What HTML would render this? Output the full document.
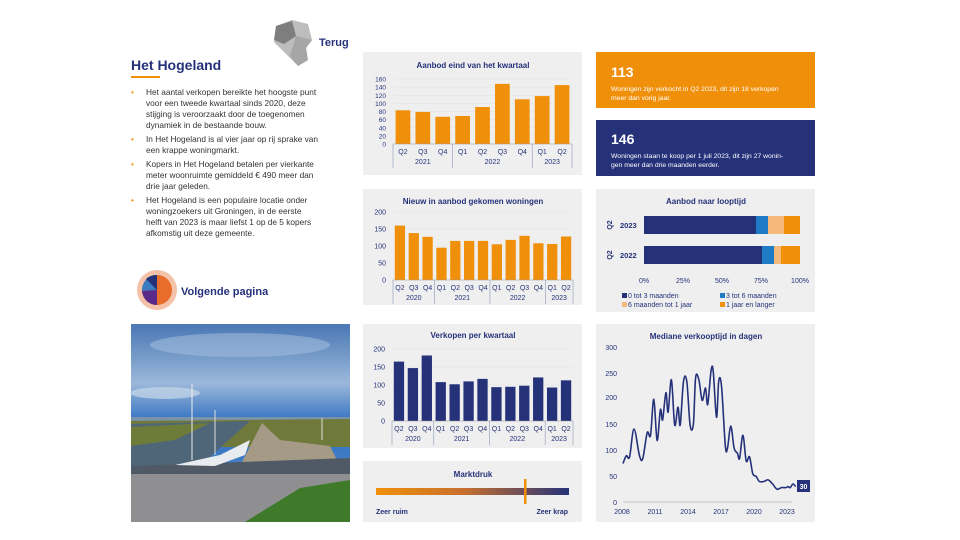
<!DOCTYPE html>
<html><head><meta charset="utf-8"><style>
body{margin:0;background:#fff;}
svg{display:block;font-family:"Liberation Sans",sans-serif;}
</style></head><body>
<svg id="s" width="960" height="540" viewBox="0 0 960 540" xmlns="http://www.w3.org/2000/svg">
<defs>
<linearGradient id="sky" x1="0" y1="0" x2="0" y2="1">
<stop offset="0" stop-color="#4a78b4"/><stop offset="0.3" stop-color="#9bb8da"/><stop offset="0.5" stop-color="#2f6fc0"/><stop offset="1" stop-color="#5f92cc"/></linearGradient>
<linearGradient id="md" x1="0" x2="1"><stop offset="0" stop-color="#f0900a"/><stop offset="0.45" stop-color="#c8702e"/><stop offset="1" stop-color="#25327a"/></linearGradient>
</defs>
<!-- map icon -->
<path d="M276 26 L292 20 L308 24 L312 40 L306 48 L308 60 L298 66 L290 58 L282 50 L274 42 Z" fill="#bdbdbd"/>
<path d="M276 26 L292 21 L296 36 L284 44 L274 40 Z" fill="#7e7e7e"/>
<path d="M296 36 L312 40 L306 48 L308 60 L298 66 L290 56 Z" fill="#a6a6a6"/>
<text x="319" y="46" font-size="11" font-weight="bold" fill="#25327a">Terug</text>
<text x="131" y="70" font-size="14" font-weight="bold" fill="#25327a">Het Hogeland</text>
<rect x="131" y="76" width="29" height="2" fill="#f0900a"/>
<g font-size="8.3" fill="#333">
<text x="131" y="95" fill="#f0900a">•</text><text x="146" y="95">Het aantal verkopen bereikte het hoogste punt</text>
<text x="146" y="106">voor een tweede kwartaal sinds 2020, deze</text>
<text x="146" y="117">stijging is veroorzaakt door de toegenomen</text>
<text x="146" y="128">dynamiek in de bestaande bouw.</text>
<text x="131" y="142" fill="#f0900a">•</text><text x="146" y="142">In Het Hogeland is al vier jaar op rij sprake van</text>
<text x="146" y="153">een krappe woningmarkt.</text>
<text x="131" y="167" fill="#f0900a">•</text><text x="146" y="167">Kopers in Het Hogeland betalen per vierkante</text>
<text x="146" y="178">meter woonruimte gemiddeld € 490 meer dan</text>
<text x="146" y="189">drie jaar geleden.</text>
<text x="131" y="203" fill="#f0900a">•</text><text x="146" y="203">Het Hogeland is een populaire locatie onder</text>
<text x="146" y="214">woningzoekers uit Groningen, in de eerste</text>
<text x="146" y="225">helft van 2023 is maar liefst 1 op de 5 kopers</text>
<text x="146" y="236">afkomstig uit deze gemeente.</text>
</g>
<!-- pie icon -->
<circle cx="157" cy="290" r="20" fill="#f3c2a8"/>
<circle cx="157" cy="290" r="15" fill="#e86d2a"/>
<path d="M157 290 L157 275 A15 15 0 0 0 142 291 Z" fill="#3a7cc2"/>
<path d="M157 290 L142 291 A15 15 0 0 0 157 305 Z" fill="#5a2a8a"/>
<path d="M157 290 L146 279 A15 15 0 0 1 157 275 Z" fill="#25327a"/>
<text x="181" y="295" font-size="11" font-weight="bold" fill="#25327a">Volgende pagina</text>

<!-- panels -->
<g fill="#efefef">
<rect x="363" y="52" width="219" height="123"/>
<rect x="363" y="189" width="219" height="116"/>
<rect x="363" y="324" width="219" height="124"/>
<rect x="363" y="461" width="219" height="61"/>
<rect x="596" y="189" width="219" height="123"/>
<rect x="596" y="324" width="219" height="198"/>
</g>
<rect x="596" y="52" width="219" height="56" fill="#f0900a"/>
<rect x="596" y="120" width="219" height="56" fill="#25327a"/>
<g fill="#fff">
<text x="611" y="77" font-size="14" font-weight="bold">113</text>
<text x="611" y="91" font-size="6.8">Woningen zijn verkocht in Q2 2023, dit zijn 18 verkopen</text>
<text x="611" y="100" font-size="6.8">meer dan vorig jaar.</text>
<text x="611" y="144" font-size="14" font-weight="bold">146</text>
<text x="611" y="158" font-size="6.8">Woningen staan te koop per 1 juli 2023, dit zijn 27 wonin-</text>
<text x="611" y="167" font-size="6.8">gen meer dan drie maanden eerder.</text>
</g>
<g font-size="8" font-weight="bold" fill="#25327a" text-anchor="middle">
<text x="473" y="68">Aanbod eind van het kwartaal</text>
<text x="473" y="204">Nieuw in aanbod gekomen woningen</text>
<text x="473" y="338">Verkopen per kwartaal</text>
<text x="473" y="477">Marktdruk</text>
<text x="706" y="204">Aanbod naar looptijd</text>
<text x="706" y="339">Mediane verkooptijd in dagen</text>
</g>
<g id="charts"></g>

<!-- marktdruk -->
<rect x="376" y="488" width="193" height="7" fill="url(#md)"/>
<rect x="524" y="479" width="2.5" height="25" fill="#f0900a"/>
<text x="376" y="514" font-size="7" font-weight="bold" fill="#25327a">Zeer ruim</text>
<text x="568" y="514" font-size="7" font-weight="bold" fill="#25327a" text-anchor="end">Zeer krap</text>

<!-- loopduur -->
<g>
<rect x="644" y="216" width="112" height="18" fill="#25327a"/><rect x="756" y="216" width="12" height="18" fill="#1f7bc6"/><rect x="768" y="216" width="16" height="18" fill="#f5b97c"/><rect x="784" y="216" width="16" height="18" fill="#f0900a"/>
<rect x="644" y="246" width="118" height="18" fill="#25327a"/><rect x="762" y="246" width="12" height="18" fill="#1f7bc6"/><rect x="774" y="246" width="7" height="18" fill="#f5b97c"/><rect x="781" y="246" width="19" height="18" fill="#f0900a"/>
<text x="620" y="228" font-size="7.5" font-weight="bold" fill="#25327a">2023</text>
<text x="620" y="258" font-size="7.5" font-weight="bold" fill="#25327a">2022</text>
<text transform="translate(612,225) rotate(-90)" font-size="7" font-weight="bold" fill="#25327a" text-anchor="middle">Q2</text>
<text transform="translate(612,255) rotate(-90)" font-size="7" font-weight="bold" fill="#25327a" text-anchor="middle">Q2</text>
<g font-size="7" fill="#25327a" text-anchor="middle">
<text x="644" y="283">0%</text><text x="683" y="283">25%</text><text x="722" y="283">50%</text><text x="761" y="283">75%</text><text x="800" y="283">100%</text>
</g>
<g font-size="7" fill="#25327a">
<rect x="622" y="293" width="5" height="5" fill="#25327a"/><text x="628" y="298">0 tot 3 maanden</text>
<rect x="720" y="293" width="5" height="5" fill="#1f7bc6"/><text x="726" y="298">3 tot 6 maanden</text>
<rect x="622" y="302" width="5" height="5" fill="#f5b97c"/><text x="628" y="307">6 maanden tot 1 jaar</text>
<rect x="720" y="302" width="5" height="5" fill="#f0900a"/><text x="726" y="307">1 jaar en langer</text>
</g>
</g>

<!-- line chart -->
<g font-size="7" fill="#25327a">
<text x="617" y="350" text-anchor="end">300</text><text x="617" y="400" text-anchor="end">200</text><text x="617" y="376" text-anchor="end">250</text>
<text x="617" y="427" text-anchor="end">150</text><text x="617" y="453" text-anchor="end">100</text><text x="617" y="479" text-anchor="end">50</text><text x="617" y="505" text-anchor="end">0</text>
<g text-anchor="middle"><text x="622" y="514">2008</text><text x="655" y="514">2011</text><text x="688" y="514">2014</text><text x="721" y="514">2017</text><text x="754" y="514">2020</text><text x="787" y="514">2023</text></g>
</g>
<line x1="623" y1="502" x2="792" y2="502" stroke="#999" stroke-width="0.6"/>
<path id="ln" fill="none" stroke="#25327a" stroke-width="1.6" stroke-linejoin="round"/>
<rect x="797" y="480" width="13" height="12" fill="#25327a"/>
<text x="803.5" y="489" font-size="7" font-weight="bold" fill="#fff" text-anchor="middle">30</text>

<!-- photo -->
<g>
<rect x="131" y="324" width="219" height="198" fill="url(#sky)"/>
<ellipse cx="165" cy="393" rx="35" ry="6" fill="#c9d8e8" opacity="0.7"/>
<ellipse cx="240" cy="345" rx="90" ry="12" fill="#a7c2e0" opacity="0.5"/>
<rect x="131" y="417" width="219" height="4" fill="#7a93a8"/>
<polygon points="131,421 350,419 350,447 131,447" fill="#6f7a3a"/>
<polygon points="131,447 131,424 250,421 200,466 131,466" fill="#4f6578"/>
<polygon points="131,427 210,423 175,440 131,446" fill="#6e7c3a"/>
<polygon points="262,423 240,466 340,466 330,446 280,440" fill="#a59a86"/>
<polygon points="131,466 350,458 350,475 131,474" fill="#4f5a66"/>
<rect x="131" y="474" width="219" height="48" fill="#8f8f92"/>
<polygon points="245,522 300,488 350,480 350,522" fill="#3f7a2a"/>
<polygon points="175,465 220,455 250,440 245,455 215,466" fill="#e8ecf0"/>
<line x1="192" y1="384" x2="192" y2="460" stroke="#eee" stroke-width="1"/>
<line x1="215" y1="410" x2="215" y2="455" stroke="#ddd" stroke-width="1"/>
<line x1="322" y1="418" x2="322" y2="440" stroke="#ddd" stroke-width="1"/>
</g>
</svg>
<script>
var NS="http://www.w3.org/2000/svg",G=document.getElementById("charts");
function el(t,a,txt){var e=document.createElementNS(NS,t);for(var k in a)e.setAttribute(k,a[k]);if(txt!=null)e.textContent=txt;G.appendChild(e);return e;}
function bars(o){
 var n=o.v.length,w=(o.x1-o.x0)/n;
 o.ticks.forEach(function(t){var y=o.z-(t/o.max)*(o.z-o.top);el("line",{x1:o.x0,x2:o.x1,y1:y,y2:y,stroke:"#e2e2e2","stroke-width":0.5});el("text",{x:o.lx,y:y+2.5,"font-size":o.fs,fill:"#25327a","text-anchor":"end"},t);});
 o.v.forEach(function(v,i){var h=v/o.max*(o.z-o.top);el("rect",{x:o.x0+i*w+w*0.13,y:o.z-h,width:w*0.74,height:h,fill:o.c});el("text",{x:o.x0+i*w+w/2,y:o.z+10,"font-size":7,fill:"#25327a","text-anchor":"middle"},o.q[i]);});
 el("line",{x1:o.x0,x2:o.x1,y1:o.z,y2:o.z,stroke:"#999","stroke-width":0.5});
 var s=0;el("line",{x1:o.x0,x2:o.x0,y1:o.z,y2:o.z+24,stroke:"#8a9ab8","stroke-width":0.6});
 o.g.forEach(function(g){var a=o.x0+s*w;s+=g[1];var b=o.x0+s*w;el("line",{x1:b,x2:b,y1:o.z,y2:o.z+24,stroke:"#8a9ab8","stroke-width":0.6});el("text",{x:(a+b)/2,y:o.z+20,"font-size":7,fill:"#25327a","text-anchor":"middle"},g[0]);});
}
var q13=["Q2","Q3","Q4","Q1","Q2","Q3","Q4","Q1","Q2","Q3","Q4","Q1","Q2"],g13=[["2020",3],["2021",4],["2022",4],["2023",2]];
bars({v:[83,79,67,69,91,148,110,118,145],q:["Q2","Q3","Q4","Q1","Q2","Q3","Q4","Q1","Q2"],g:[["2021",3],["2022",4],["2023",2]],x0:393,x1:572,z:144,top:79,max:160,ticks:[0,20,40,60,80,100,120,140,160],lx:386,fs:6.5,c:"#f0900a"});
bars({v:[160,138,127,95,115,115,115,105,118,130,108,106,128],q:q13,g:g13,x0:393,x1:573,z:280,top:212,max:200,ticks:[0,50,100,150,200],lx:386,fs:7,c:"#f0900a"});
bars({v:[165,147,182,108,102,110,117,94,95,98,121,93,113],q:q13,g:g13,x0:392,x1:573,z:421,top:349,max:200,ticks:[0,50,100,150,200],lx:385,fs:7,c:"#25327a"});
var d=[[2008,75],[2008.3,90],[2008.6,88],[2009,142],[2009.5,90],[2009.8,85],[2010.2,135],[2010.5,130],[2010.8,200],[2011.1,120],[2011.4,180],[2011.6,160],[2011.9,213],[2012.1,175],[2012.4,238],[2012.7,150],[2013,185],[2013.2,150],[2013.5,235],[2013.8,235],[2014.1,150],[2014.4,152],[2014.6,242],[2014.9,238],[2015.2,198],[2015.5,222],[2015.7,190],[2016,255],[2016.2,255],[2016.5,165],[2016.7,235],[2016.95,226],[2017.3,110],[2017.5,105],[2017.8,148],[2018.1,105],[2018.4,95],[2018.6,85],[2018.9,130],[2019.2,80],[2019.5,88],[2019.8,55],[2020.1,50],[2020.4,40],[2020.8,40],[2021.2,43],[2021.6,35],[2022,25],[2022.4,28],[2022.8,28],[2023,30],[2023.2,28],[2023.45,35],[2023.7,30]];
var P=d.map(function(a){return [623+(a[0]-2008)*11,502-a[1]*154/300];});
var p="M"+P[0][0].toFixed(1)+" "+P[0][1].toFixed(1);
for(var i=0;i<P.length-1;i++){var p0=P[Math.max(0,i-1)],p1=P[i],p2=P[i+1],p3=P[Math.min(P.length-1,i+2)];
 var c1x=p1[0]+(p2[0]-p0[0])/6,c1y=p1[1]+(p2[1]-p0[1])/6,c2x=p2[0]-(p3[0]-p1[0])/6,c2y=p2[1]-(p3[1]-p1[1])/6;
 p+="C"+c1x.toFixed(1)+" "+c1y.toFixed(1)+" "+c2x.toFixed(1)+" "+c2y.toFixed(1)+" "+p2[0].toFixed(1)+" "+p2[1].toFixed(1);}
document.getElementById("ln").setAttribute("d",p);
</script>
</body></html>
